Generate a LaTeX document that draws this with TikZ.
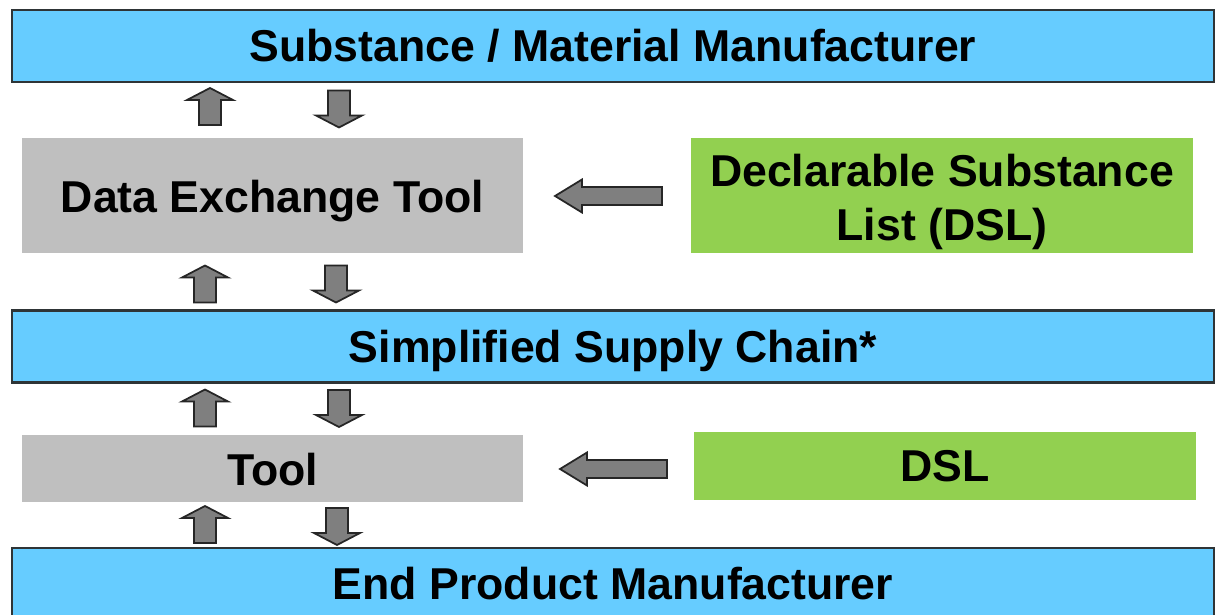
\documentclass[tikz,border=0pt]{standalone}
\usepackage{fontspec}
\setmainfont{Liberation Sans}
\definecolor{bluebar}{HTML}{66CCFF}
\definecolor{greybox}{HTML}{BFBFBF}
\definecolor{greenbox}{HTML}{92D050}
\definecolor{arrowfill}{HTML}{7F7F7F}
\definecolor{edgedark}{HTML}{2E3436}
\newcommand{\lowerby}[1]{\rule{0pt}{#1}}
\tikzset{
  labelfont/.style={font=\fontsize{25.4}{30.5}\selectfont\bfseries, align=center},
  bar/.style={draw=edgedark, line width=1.4pt, fill=bluebar, minimum width=24.04cm, minimum height=1.44cm, inner sep=0pt, labelfont},
  greyblock/.style={fill=greybox, inner sep=0pt, labelfont},
  greenblock/.style={fill=greenbox, inner sep=0pt, labelfont},
  blockarrow/.style={draw=black!85, line width=1pt, fill=arrowfill, line join=miter},
  pics/uparrow/.style={code={
    \draw[blockarrow] (-11,18.5) -- (-11,-6.5) -- (-23,-6.5) -- (0,-18.5) -- (23,-6.5) -- (11,-6.5) -- (11,18.5) -- cycle;}},
  pics/downarrow/.style={code={
    \draw[blockarrow] (-11,-18.5) -- (-11,6.5) -- (-23,6.5) -- (0,18.5) -- (23,6.5) -- (11,6.5) -- (11,-18.5) -- cycle;}},
  pics/leftarrow/.style={code={
    \draw[blockarrow] (0,0) -- (27,-16.5) -- (27,-9) -- (107,-9) -- (107,9) -- (27,9) -- (27,16.5) -- cycle;}},
}
\begin{document}
\begin{tikzpicture}[x=0.02cm, y=-0.02cm]
\useasboundingbox (0,0) rectangle (1215,615);
\begin{scope}
\clip (0,0) rectangle (1215,615);
\node[bar] (top) at (613,46) {Substance / Material Manufacturer};
\node[greyblock, minimum width=10.02cm, minimum height=2.3cm] (det) at (272.5,195.5) {\lowerby{25pt}Data Exchange Tool};
\node[greenblock, minimum width=10.04cm, minimum height=2.3cm] (dsl1) at (942,195.5) {\lowerby{26pt}Declarable Substance\\List (DSL)};
\node[bar] (mid) at (613,346.5) {\lowerby{23.5pt}Simplified Supply Chain*};
\node[greyblock, minimum width=10.02cm, minimum height=1.34cm] (tool) at (272.5,468.5) {\lowerby{20pt}Tool};
\node[greenblock, minimum width=10.04cm, minimum height=1.36cm] (dsl2) at (945,466) {DSL};
\node[bar] (bot) at (613,584) {End Product Manufacturer};
\end{scope}
% vertical block arrows
\pic at (210,106.5) {uparrow};
\pic at (339,109) {downarrow};
\pic at (205,284) {uparrow};
\pic at (336,284) {downarrow};
\pic at (205,408) {uparrow};
\pic at (339,408.5) {downarrow};
\pic at (205,524.5) {uparrow};
\pic at (337,526.5) {downarrow};
% horizontal block arrows
\pic at (555,196) {leftarrow};
\pic at (560,469) {leftarrow};
\end{tikzpicture}
\end{document}
